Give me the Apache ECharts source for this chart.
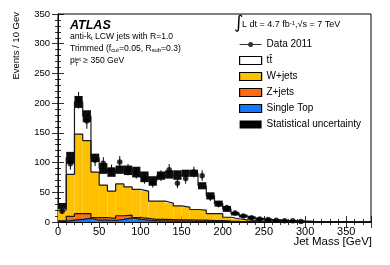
<!DOCTYPE html>
<html><head><meta charset="utf-8">
<script src="https://cdn.jsdelivr.net/npm/echarts@6/dist/echarts.min.js"></script>
<style>html,body{margin:0;padding:0;background:#fff}#c{width:390px;height:265px}</style>
</head><body><div id="c"></div>
<script>
// ---- data ----
const binLow = [0,10,20,30,40,50,60,70,80,90,100,110,120,130,140,150,160,170,180,190,200,210,220,230,240,250,260,270,280,290,300,310,320,330,340,350,360,370];
const binWidth = 10;
const xTickLabels = [0,50,100,150,200,250,300,350];
const yTickLabels = [0,50,100,150,200,250,300,350];
const singleTop = [1,3,4.5,6,3,3,2.5,4.5,7,4.5,3,2,2,1.5,1.5,1.5,1.2,1.2,1,1,0.6,0.4,0.3,0.2,0.1,0.1,0,0,0,0,0,0,0,0,0,0,0,0];
const zJets     = [1,6.5,9.5,8,4.5,4.5,3.5,6,4.5,3,3,2.5,2.5,2.5,2,2,1.8,1.8,1.5,1.5,0.9,0.6,0.5,0.3,0.2,0.1,0.1,0.1,0,0,0,0,0,0,0,0,0,0];
const wJets     = [18,70.5,134,123,76.5,54.5,46,53.5,47.5,47.5,46,30.5,30.5,28,23.5,21.5,18,17,11.5,11.5,6.5,4.5,2.7,2,1.2,0.8,0.7,0.4,0.4,0.3,0.2,0.1,0.1,0.1,0,0,0,0];
const ttbar     = [7,28,54,41,24,28,32,24,28,29,24,34,43,48,52,57,61,41,30,17,14,8.5,6.5,4.5,3.5,3,2.2,2,1.6,1.2,0.8,0.7,0.5,0.4,0.4,0.3,0.2,0.2];
const statUnc   = [5,10,10,10,7,9,8,7,8,9,9,8,7,7,8,6,6,6,6,5,5,3,2.5,2.5,2,2,1.5,1.5,1.2,1,0.8,0.6,0.5,0.4,0.4,0.3,0.2,0.2];
const data2011  = [18,98,205,170,104,99,87,101,88,82,73,66,78,88,65,73,84,78,42,30,24,15,10,7,5,4,3,2,2,1,0,0,0,0,0,0,0,0];
const dataErr   = [4.5,10,14,13,10,10,9.5,10,9.5,9,8.5,8,9,9.5,8,8.5,9,9,6.5,5.5,5,4,3.2,2.7,2.2,2,1.7,1.4,1.4,1,0,0,0,0,0,0,0,0];

// ---- stacking ----
const cumST = singleTop.slice();
const cumZ = cumST.map((v,i)=>v+zJets[i]);
const cumW = cumZ.map((v,i)=>v+wJets[i]);
const cumT = cumW.map((v,i)=>v+ttbar[i]);

const FONT = '"Liberation Sans", Arial, Helvetica, sans-serif';
const C_W = '#FFC000', C_Z = '#FF6A13', C_ST = '#1478FF';

function layerData(lo, hi){ return binLow.map((x,i)=>[x, x+binWidth, lo?lo[i]:0, hi[i]]); }
function stepData(arr){ const d = binLow.map((x,i)=>[x, arr[i]]); d.push([binLow[binLow.length-1]+binWidth, arr[arr.length-1]]); return d; }

function rectItem(params, api){
  const x0 = api.value(0), x1 = api.value(1), lo = api.value(2), hi = api.value(3);
  if (!(hi > lo)) return null;
  const a = api.coord([x0, hi]), b = api.coord([x1, lo]);
  const cs = params.coordSys;
  const shape = echarts.graphic.clipRectByRect(
    {x:a[0], y:a[1], width:b[0]-a[0], height:b[1]-a[1]},
    {x:cs.x, y:cs.y, width:cs.width, height:cs.height});
  return shape && {type:'rect', shape: shape, style: api.style({stroke:null})};
}
function fillSeries(name, lo, hi, color, z){
  return {name:name, type:'custom', renderItem:rectItem, data:layerData(lo,hi),
    encode:{x:[0,1], y:[2,3]}, itemStyle:{color:color}, z:z, silent:true, animation:false};
}
function lineSeries(arr, z){
  return {type:'line', step:'end', data:stepData(arr), symbol:'none', z:z, silent:true, animation:false,
    lineStyle:{color:'#1a1a1a', width:1.2}};
}

const uncData = binLow.map((x,i)=>[x, x+binWidth, cumT[i]-statUnc[i], cumT[i]+statUnc[i]]);
const pts = [], errs = [];
binLow.forEach((x,i)=>{ if (data2011[i] > 0){ pts.push([x+binWidth/2, data2011[i]]); errs.push([x+binWidth/2, data2011[i]-dataErr[i], data2011[i]+dataErr[i]]); } });

const chart = echarts.init(document.getElementById('c'), null, {renderer:'canvas'});
const axisCommon = {
  min:0, axisLine:{show:true, lineStyle:{color:'#000', width:1}},
  axisTick:{show:true, inside:true, length:6, lineStyle:{color:'#000', width:0.8}},
  minorTick:{show:true, splitNumber:5, length:3, lineStyle:{color:'#000', width:0.8}},
  splitLine:{show:false}
};
const richBase = {fontSize:8.6, fontFamily:FONT, lineHeight:10, verticalAlign:'middle'};
const richSub = {fontSize:5.8, fontFamily:FONT, lineHeight:6, verticalAlign:'bottom'};
const richSup = {fontSize:5.8, fontFamily:FONT, lineHeight:6, verticalAlign:'top'};
chart.setOption({
  animation:false,
  grid:{left:58, right:19, top:14, bottom:43, show:true, borderColor:'#000', borderWidth:1, containLabel:false},
  xAxis:[
    Object.assign({type:'value', max:380, interval:50, position:'bottom',
      axisLabel:{show:true, color:'#000', fontSize:11, fontFamily:FONT, margin:4, showMaxLabel:false,
        formatter:v=> xTickLabels.indexOf(v)>=0 ? String(v) : ''}}, axisCommon),
    Object.assign({type:'value', max:380, interval:50, position:'top', axisLabel:{show:false}}, axisCommon)
  ],
  yAxis:[
    Object.assign({type:'value', max:350, interval:50, position:'left',
      axisLabel:{show:true, color:'#000', fontSize:9.5, fontFamily:FONT, margin:8,
        formatter:v=> yTickLabels.indexOf(v)>=0 ? String(v) : ''}}, axisCommon),
    Object.assign({type:'value', max:350, interval:50, position:'right', axisLabel:{show:false}}, axisCommon)
  ],
  legend:{
    orient:'vertical', left:239, top:39.5, padding:0, itemWidth:22, itemHeight:8, itemGap:6,
    selectedMode:false, symbolKeepAspect:true,
    textStyle:{fontSize:10, color:'#000', fontFamily:FONT, lineHeight:10, padding:[0,0,0,0]},
    data:[
      {name:'Data 2011', icon:'path://M0,3.6L22,3.6L22,4.4L0,4.4Z M13.5,4A2.5,2.5 0 1 1 8.5,4A2.5,2.5 0 1 1 13.5,4Z', itemStyle:{color:'#000'}},
      {name:'tt̄', icon:'rect', itemStyle:{color:'#fff', borderColor:'#000', borderWidth:1.2}},
      {name:'W+jets', icon:'rect', itemStyle:{color:C_W, borderColor:'#000', borderWidth:1.2}},
      {name:'Z+jets', icon:'rect', itemStyle:{color:C_Z, borderColor:'#000', borderWidth:1.2}},
      {name:'Single Top', icon:'rect', itemStyle:{color:C_ST, borderColor:'#000', borderWidth:1.2}},
      {name:'Statistical uncertainty', icon:'rect', itemStyle:{color:'#000'}}
    ]
  },
  series:[
    fillSeries('tt̄', cumW, cumT, '#ffffff', 1),
    fillSeries('W+jets', cumZ, cumW, C_W, 1),
    fillSeries('Z+jets', cumST, cumZ, C_Z, 1),
    fillSeries('Single Top', null, cumST, C_ST, 1),
    lineSeries(cumT, 2), lineSeries(cumW, 2), lineSeries(cumZ, 2), lineSeries(cumST, 2),
    {name:'Statistical uncertainty', type:'custom', renderItem:rectItem, data:uncData,
      encode:{x:[0,1], y:[2,3]}, itemStyle:{color:'#0d0d0d'}, z:3, silent:true},
    {type:'custom', data:errs, encode:{x:0, y:[1,2]}, z:4, silent:true,
      renderItem:function(params, api){
        const a = api.coord([api.value(0), api.value(1)]), b = api.coord([api.value(0), api.value(2)]);
        return {type:'line', shape:{x1:a[0], y1:a[1], x2:b[0], y2:b[1]}, style:{stroke:'#000', lineWidth:1}};
      }},
    {name:'Data 2011', type:'scatter', data:pts, symbol:'circle', symbolSize:5.5, itemStyle:{color:'#000'}, z:5, silent:true}
  ],
  graphic:[
    {type:'text', left:70, top:19, style:{text:'ATLAS', font:'italic bold 12.5px '+FONT, fill:'#000'}},
    {type:'text', left:70, top:32, style:{text:'{a|anti-k}{s|t}{a| LCW jets with R=1.0}', fill:'#000', rich:{a:richBase, s:richSub}}},
    {type:'text', left:70, top:44, style:{text:'{a|Trimmed (f}{s|cut}{a|=0.05, R}{s|sub}{a|=0.3)}', fill:'#000', rich:{a:richBase, s:richSub}}},
    {type:'text', left:70, top:56, style:{text:'{a|p}{u|jet}{a| ≥ 350 GeV}', fill:'#000', rich:{a:richBase, u:richSup}}},
    {type:'text', left:75, top:61, style:{text:'T', fill:'#000', font:'5.8px '+FONT}},
    {type:'text', left:234, top:14, style:{text:'∫', fill:'#000', font:'18px "DejaVu Sans", '+FONT}},
    {type:'text', left:242, top:20, style:{text:'{a|L dt = 4.7 fb}{u|-1}{a|,}{a|√s = 7 TeV}', fill:'#000',
      rich:{a:{fontSize:9, fontFamily:FONT, lineHeight:10, verticalAlign:'middle'}, u:richSup}}},
    {type:'text', x:16, y:12, rotation:Math.PI/2, style:{text:'Events / 10 Gev', fill:'#000', font:'9.5px '+FONT, align:'right', verticalAlign:'middle'}},
    {type:'text', right:18, top:236, style:{text:'Jet Mass [GeV]', fill:'#000', font:'11.5px '+FONT}}
  ]
});
</script></body></html>
